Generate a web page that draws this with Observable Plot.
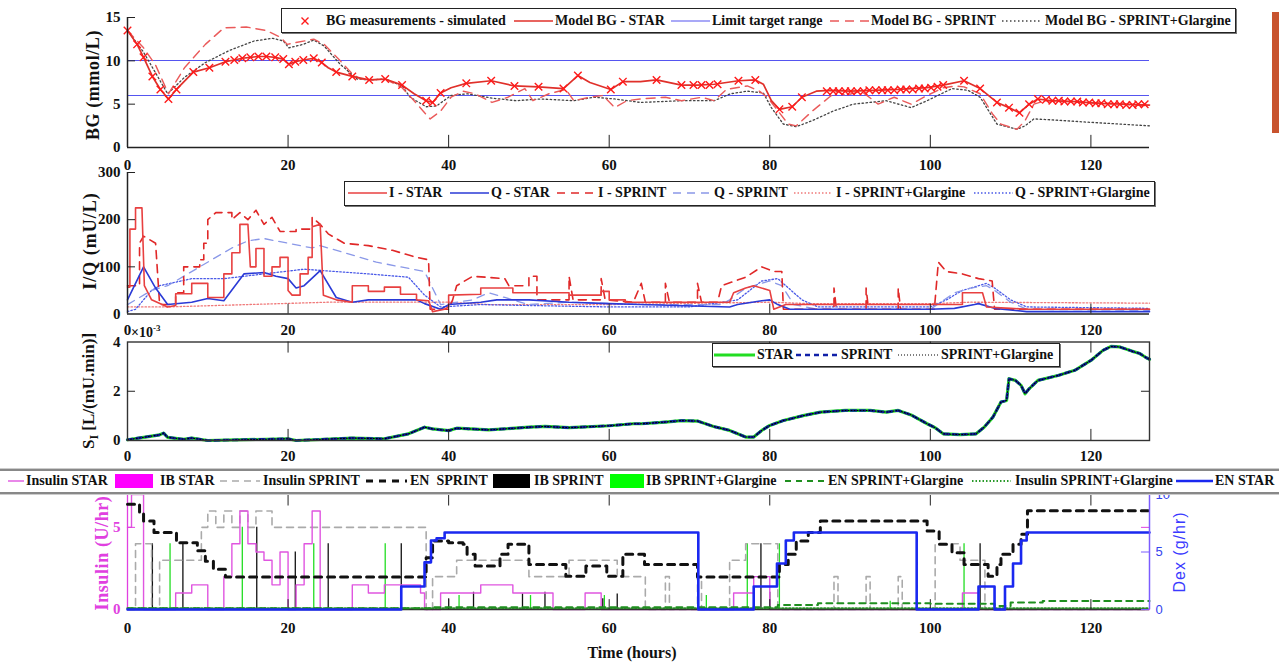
<!DOCTYPE html>
<html><head><meta charset="utf-8">
<script src="https://cdn.jsdelivr.net/npm/d3@7"></script>
<script src="https://cdn.jsdelivr.net/npm/@observablehq/plot@0.6"></script>
<style>
body{margin:0;background:#fff;}
#chart{position:relative;width:1279px;height:663px;overflow:hidden;background:#fff;font-family:"Liberation Serif","Times New Roman",serif;font-weight:bold;color:#111;}
.lg{position:absolute;box-sizing:border-box;border:1px solid #222;background:#fff;box-shadow:1px 1px 0 #777;}
.strip{position:absolute;box-sizing:border-box;background:#fff;border-top:2px solid #888;border-bottom:2px solid #888;box-shadow:0 1px 0 #ccc, 0 -1px 0 #ccc;}
.it{position:absolute;font-size:14px;line-height:18px;height:18px;white-space:nowrap;}
.yt{position:absolute;white-space:nowrap;transform:translate(-50%,-50%) rotate(-90deg);line-height:1;}
</style></head><body><div id="chart"></div><script>
// ---------- DATA ----------
const xTicks = [0, 20, 40, 60, 80, 100, 120];
// Panel 1: BG (mmol/L)
const bgMeas = [[0,13.5],[1.2,11.9],[2,10.4],[3.1,8.2],[4.1,6.7],[5.1,5.6],[6.1,6.7],[8.2,8.7],[10.2,9.2],[12.2,9.9],[13.3,10.1],[14.3,10.3],[15.3,10.4],[16.3,10.5],[17.3,10.5],[18.4,10.4],[19.4,10.2],[20.1,9.6],[20.9,9.9],[21.9,10.1],[23.2,10.3],[24.2,9.8],[26,8.7],[28,8.2],[30.1,7.8],[32.1,7.9],[34.2,7.2],[37.2,5.4],[38,5.2],[39,6.3],[42.2,7.4],[45.3,7.7],[48.2,7.1],[51.2,7.0],[54.3,6.8],[56.1,8.3],[60.2,6.7],[61.7,7.6],[65.9,7.8],[69,7.2],[70.5,7.2],[71.5,7.2],[72.5,7.2],[73.5,7.3],[76.1,7.7],[78.2,7.8],[81.2,4.4],[82.8,4.7],[84,5.8],[87.1,6.5],[87.9,6.5],[88.6,6.5],[89.4,6.5],[90.1,6.5],[90.9,6.5],[91.7,6.5],[92.4,6.6],[93.2,6.6],[94.0,6.6],[94.7,6.6],[95.5,6.6],[96.3,6.7],[97.0,6.7],[97.8,6.7],[98.6,6.8],[99.3,6.8],[100.1,6.9],[100.9,7.0],[101.6,7.2],[104.2,7.7],[106.2,6.8],[108.3,5.2],[109.8,4.6],[111.1,4.0],[112.3,5.0],[113.4,5.6],[114.4,5.5],[115.2,5.4],[116.0,5.4],[116.7,5.3],[117.5,5.3],[118.3,5.3],[119.0,5.2],[119.8,5.2],[120.6,5.1],[121.3,5.1],[122.1,5.0],[122.9,5.0],[123.6,5.0],[124.4,4.9],[125.2,4.9],[125.9,5.0],[126.7,5.0]];
const bgStar = [[0,13.5],[1.2,11.9],[2,10.4],[3.1,8.2],[4.1,6.7],[5.1,5.6],[6.1,6.7],[8.2,8.7],[10.2,9.2],[12.2,9.9],[13.3,10.1],[14.3,10.3],[15.3,10.4],[16.3,10.5],[17.3,10.5],[18.4,10.4],[19.4,10.2],[20.1,9.6],[20.9,9.9],[21.9,10.1],[23.2,10.3],[24.2,9.8],[25,9.2],[26,8.7],[28,8.2],[30.1,7.8],[32.1,7.9],[34.2,7.2],[35.7,6.2],[37.2,5.4],[38,5.2],[39,6.3],[40.3,6.9],[42.2,7.4],[45.3,7.7],[48.2,7.1],[51.2,7.0],[54.3,6.8],[56.1,8.3],[57.6,7.5],[60.2,6.7],[61.7,7.6],[63.9,7.6],[65.9,7.8],[69,7.2],[71,7.2],[73.1,7.3],[76.1,7.7],[78.2,7.8],[79.2,7.3],[80.2,5.4],[81.2,4.4],[82.8,4.7],[84,5.8],[85.8,6.5],[87.4,6.6],[90,6.5],[93,6.6],[96,6.7],[99.6,6.9],[101.6,7.2],[104.2,7.7],[106.2,6.8],[108.3,5.2],[109.8,4.6],[111.1,4.0],[112.3,5.0],[113.4,5.6],[114.9,5.4],[118,5.3],[121,5.1],[124,5.0],[127.3,4.9]];
const bgSprint = [[0,13.5],[2,11.5],[3.5,9.5],[5.1,6.2],[7.1,9.2],[9.7,11.9],[12,13.8],[14.8,13.9],[17.3,13.5],[19.1,12.7],[19.9,11.9],[20.9,12.1],[23.2,12.5],[24.5,11.9],[26.5,10],[28,8.5],[29,7.9],[30.1,7.8],[32.1,7.9],[34.2,6.9],[35.7,5.4],[37.2,3.8],[37.7,3.3],[39,4.2],[40.3,5.8],[41.8,6.5],[43.3,6.2],[45.4,5.2],[47.4,5.8],[49.5,6.8],[50.5,5.4],[52.5,6.2],[54.6,6.7],[55.6,5.4],[57.6,5.8],[59.2,6.0],[60.7,4.6],[62.2,5.4],[63.9,5.6],[67,5.8],[69,5.4],[71.5,5.8],[73.1,5.4],[74.6,6.7],[77.2,7.1],[78.7,6.5],[79.7,5.8],[80.7,4.6],[82.3,2.7],[83.3,2.5],[85.3,4.2],[87.4,5.8],[88.4,6.5],[89.4,6.0],[91.4,6.5],[93.5,5.0],[95.5,5.8],[97.6,5.0],[99.6,6.0],[101.6,6.9],[103.2,7.1],[104.2,7.0],[106.2,6.2],[107.8,3.8],[108.8,2.7],[110.8,2.1],[111.8,3.1],[112.9,5.0],[114.4,5.4],[120,5.2],[127.3,4.8]];
const bgGlargine = [[0,13.5],[2,11.0],[5,6.2],[7.1,8.1],[9.7,9.8],[12.7,11.2],[15.8,12.3],[18.1,12.6],[19.4,12.3],[20.1,11.5],[21.9,11.9],[23.2,12.4],[24.5,11.7],[26.5,9.6],[28.6,7.9],[30.1,7.8],[32.1,7.9],[34.2,7.1],[35.2,5.8],[37.2,4.7],[38.5,4.8],[40.3,6.0],[42.3,6.2],[45.4,5.7],[48.4,5.4],[51.5,5.6],[55.6,5.4],[58.1,5.8],[60.7,5.6],[63.9,5.2],[69,5.4],[73.1,5.4],[75.1,6.2],[77.2,6.5],[79.2,6.3],[80.2,4.6],[81.7,2.7],[83.3,2.4],[85.3,3.1],[87.9,4.2],[90.4,5.0],[94.5,5.4],[97.6,4.6],[99.6,5.4],[102.7,6.8],[104.7,6.6],[106.2,5.8],[108.3,2.7],[110.8,2.1],[111.8,2.5],[112.9,3.3],[114.9,3.2],[120,2.9],[127.3,2.5]];
const bgLimits = [6, 10];
// Panel 2: I/Q (mU/L)
const iStar = [[0,57],[0.3,57],[0.3,180],[1,180],[1,225],[1.8,225],[2.1,60],[3,30],[5,15],[6,18],[6,43],[8,43],[8,65],[10,65],[10,35],[12,35],[12,85],[13,85],[13,130],[14,130],[14,190],[15,190],[15.3,100],[16,100],[16,139],[17,139],[17,80],[18,80],[18,100],[19,100],[19,120],[20,120],[20,50],[20.5,40],[21.5,40],[21.5,85],[22.5,85],[22.5,120],[23,120],[23,185],[24,190],[24.4,40],[26,30],[28,25],[28,60],[30,60],[30,48],[32,48],[32,57],[34,57],[34,42],[36,42],[36,30],[37.5,28],[38,5],[39.5,10],[40,15],[40,40],[44,42],[44,55],[48,55],[48,45],[55,45],[55,40],[59,40],[59,48],[60,48],[60,30],[62,30],[62,25],[75,25],[75.5,45],[77,55],[78,60],[80,50],[80.5,10],[82,20],[104,20],[104,45],[106.5,45],[107,15],[110,12],[112,10],[127.3,10]];
const qStar = [[0,30],[2,100],[3.5,55],[5,20],[8,25],[10,33],[12,28],[14.5,85],[17,88],[18.5,80],[20,75],[21,55],[22,60],[24,92],[26,35],[28,25],[30,30],[36,30],[37,22],[39,10],[40,20],[44,25],[46,30],[50,30],[55,25],[60,22],[64,20],[75,15],[76,20],[79,28],[80,30],[81,20],[82.5,10],[100,10],[103,12],[105.5,20],[106,22],[108,12],[112,5],[127.3,5]];
const iSprint = [[0,60],[1.5,60],[1.5,150],[2,165],[3.5,150],[4,20],[6,20],[6,45],[7,45],[7,100],[9,100],[9,115],[9.5,115],[9.5,150],[10,150],[10,200],[11,215],[13,215],[13,200],[14,215],[15,200],[16,220],[17,190],[18,205],[19,175],[21,175],[21,180],[23,180],[23,205],[24,190],[25,170],[27,150],[30,145],[33,135],[36,120],[37.5,115],[37.7,10],[40,10],[40.5,30],[41,60],[43,80],[47,75],[47.5,60],[50,60],[50,80],[51,80],[51,30],[55,30],[55,80],[55.5,30],[59,30],[59,75],[59.5,30],[63,25],[64,65],[64.5,25],[67,25],[67,65],[67.5,25],[71,25],[71,65],[71.5,25],[73.5,25],[74,60],[77,78],[79,100],[80.5,90],[81.5,90],[81.7,10],[88,10],[88,55],[88.3,10],[92,10],[92,55],[92.3,10],[96,10],[96,55],[96.3,10],[100.5,10],[101,110],[102,90],[104,85],[106,75],[107.7,70],[108,10],[127.3,10]];
const qSprint = [[0,20],[3,50],[5,60],[9,100],[13,140],[15,155],[17,160],[20,150],[23,140],[24,145],[27,130],[31,110],[34,100],[37,90],[39,20],[43,30],[45,45],[47,35],[50,20],[55,25],[64,20],[74,20],[75,30],[77,55],[79,65],[80,70],[81.5,60],[83,20],[86,10],[100,10],[103,45],[105,55],[107,60],[108,50],[110,25],[112,10],[127.3,8]];
const iGlargine = [[0,15],[5,15],[15,20],[25,25],[40,25],[45,20],[60,20],[80,25],[85,22],[100,22],[105,25],[127.3,23]];
const qGlargine = [[0,5],[1,10],[3,50],[4,60],[8,75],[12,75],[22,95],[26,90],[30,85],[35,78],[37,40],[39,15],[44,20],[50,18],[60,15],[70,15],[76,30],[79,70],[81,75],[82,60],[84,30],[86,15],[100,15],[102,30],[104,50],[107,65],[108,55],[110,30],[112,15],[127.3,12]];
// Panel 3: SI (x10^-3 L/(mU.min)) -- identical for STAR, SPRINT, SPRINT+Glargine
const siValues = [[0,0.03],[2,0.13],[4,0.23],[4.5,0.3],[5,0.13],[7,0.05],[8,0.1],[10,0.0],[20,0.07],[21,0.0],[28,0.1],[32,0.07],[35,0.27],[37,0.54],[38,0.47],[40,0.4],[41,0.5],[45,0.43],[50,0.54],[52,0.57],[55,0.52],[60,0.6],[63,0.68],[64,0.68],[67,0.75],[69,0.81],[71,0.79],[73,0.57],[75,0.41],[77,0.14],[78,0.14],[79,0.41],[80,0.61],[81.7,0.81],[84.3,1.02],[86.3,1.15],[89.4,1.22],[92.5,1.22],[94.5,1.15],[96,1.22],[97.6,1.04],[99.6,0.68],[100.6,0.52],[101.6,0.27],[103.7,0.24],[105.7,0.27],[106.7,0.54],[107.8,0.95],[108.8,1.56],[109.5,1.63],[109.8,2.51],[110.6,2.44],[111.3,2.24],[111.8,1.9],[112.3,2.1],[113.4,2.44],[115.9,2.64],[118,2.85],[120,3.25],[121.5,3.66],[122.5,3.82],[123.6,3.8],[125.1,3.63],[126.1,3.53],[126.9,3.36],[127.3,3.3]];
// Panel 4: insulin (U/hr, left axis) and nutrition (g/hr, right axis), step series [time, value]
const insulinStar = [[0,5],[0.5,7],[2,0],[6,1],[8,1.5],[10,0],[12,2],[13,4],[14,6],[15,4],[16,3.5],[17,3],[18,1.5],[19,3.5],[20,0],[21,1.5],[22,4],[23,6],[24,0],[28,1.5],[30,1],[32,1.5],[34,1.5],[36.5,1],[37,0],[39,1],[44,1.5],[48,1],[53,0],[57,1],[59,0],[75.5,1],[78,2],[80,0],[104,1],[106,0],[127.3,0]];
const insulinSprint = [[0,0],[1,4],[3,0],[4,3],[9.2,5],[10,6],[11,5],[12,6],[13,5],[14,6],[15,5],[16,6],[18,5],[37.2,0],[38,2],[41,3],[48,3],[50,2],[55,3],[61,2],[64,2],[64.5,0],[67,2],[67.5,0],[71,2],[71.5,0],[75,3],[77,4],[81,0],[88,2],[88.5,0],[92,2],[92.5,0],[96,2],[96.5,0],[100.6,4],[103.7,3],[106.8,0],[127.3,0]];
const insulinGlargine = [[0,0.08],[127.3,0.08]];
const enSprint = [[0,9.16],[1.5,8.4],[2,7.7],[3.3,6.7],[6.1,5.8],[8.7,5.1],[9.7,4.2],[10.7,3.5],[12.2,2.82],[37.2,4.5],[38,5.96],[40,5.8],[41.8,5.67],[42.3,4.8],[43.3,3.78],[46.4,4.8],[47.4,5.67],[50,3.92],[54.6,2.9],[57.1,3.78],[59.7,2.9],[61.7,4.8],[64.4,3.92],[71,2.82],[81.2,3.92],[82.3,4.8],[83.3,5.96],[84.8,6.69],[86.3,7.7],[99.6,6.83],[101.1,5.67],[102.7,4.94],[104.2,3.92],[107.2,2.9],[108.3,3.92],[108.8,4.8],[110.3,5.67],[111.3,6.54],[112.1,8.58],[127.3,8.58]];
const enStar = [[0,0],[34.1,2.0],[37,4.1],[37.8,6.0],[38.5,6.2],[39.5,6.7],[71.1,0],[78,2],[80.9,4],[82,6],[83,6.7],[98.3,0],[106,2],[108,0],[109.3,2],[110.3,4],[111.3,6],[112,6.7],[127.3,6.7]];
const enGlargine = [[0,0.1],[38,0.2],[81,0.4],[86,0.55],[100,0.5],[108,0.3],[110,0.6],[114,0.75],[127.3,0.75]];
const ibSprint = [[3.1,4],[6.9,4],[16.1,5],[20.9,3.5],[25,4],[34.1,4],[40,0.65],[43.1,1.05],[49.2,0.95],[52,1.05],[59.2,0.65],[61,0.95],[78.9,4],[80,1.05],[106.2,4]];
const ibGlargine = [[5.3,4],[14.3,5],[23.2,4],[32.1,4],[41.3,0.85],[50.2,0.85],[59.4,0.85],[72.1,0.85],[77.2,4],[81.2,4],[95,0.5],[104.2,4]];

// ---------- LAYOUT ----------
const chart = document.getElementById("chart");
const FONT = "'Liberation Serif','Times New Roman',serif";
const XD = [0, 127.3];
const inner = xTicks.slice(1);
const fmt = d => String(d);
const style = {fontFamily: FONT, fontSize: "15px", fontWeight: "bold", color: "#111", background: "transparent", overflow: "visible"};
const base = (h, mt, mb) => ({width: 1279, height: h, marginLeft: 127, marginRight: 130, marginTop: mt, marginBottom: mb, x: {domain: XD, label: null}, style});
function place(svg, top) { svg.style.position = "absolute"; svg.style.left = "0px"; svg.style.top = top + "px"; chart.appendChild(svg); }
const ax = (pad) => Plot.axisX({ticks: xTicks, tickFormat: fmt, anchor: "bottom", tickSize: 0, tickPadding: pad, label: null, fontSize: 15});
const ay = (t, extra = {}) => Plot.axisY({ticks: t, tickFormat: fmt, anchor: "left", tickSize: 0, tickPadding: 7, label: null, fontSize: 15, ...extra});

// Panel 1
place(Plot.plot({...base(180, 17, 33), y: {domain: [0, 15], label: null}, marks: [
  Plot.ruleY(bgLimits, {stroke: "#5555f0", strokeWidth: 1, shapeRendering: "crispEdges"}),
  Plot.line(bgGlargine, {stroke: "#444", strokeWidth: 1.3, strokeDasharray: "1.5,2.5"}),
  Plot.line(bgSprint, {stroke: "#ea5a5a", strokeWidth: 1.4, strokeDasharray: "9,6"}),
  Plot.line(bgStar, {stroke: "#e0302a", strokeWidth: 1.7}),
  Plot.dot(bgMeas, {symbol: "times", r: 3.5, stroke: "#ff1a1a", strokeWidth: 1.4}),
  Plot.ruleY([0], {stroke: "#222", strokeWidth: 1.5}),
  Plot.ruleX([0], {stroke: "#222", strokeWidth: 1.5}),
  Plot.ruleX(inner, {y1: 0, y2: 1.4, stroke: "#222"}),
  Plot.ruleY([5, 10, 15], {x1: 0, x2: 1, stroke: "#222"}),
  ax(12), ay([0, 5, 10, 15])
]}), 0);

// Panel 2
place(Plot.plot({...base(180, 12, 26.5), y: {domain: [0, 300], label: null}, marks: [
  Plot.line(iGlargine, {stroke: "#f07a7a", strokeWidth: 1.3, strokeDasharray: "1.5,2"}),
  Plot.line(qGlargine, {stroke: "#4a5ae8", strokeWidth: 1.3, strokeDasharray: "1.5,2"}),
  Plot.line(qSprint, {stroke: "#8a98e8", strokeWidth: 1.3, strokeDasharray: "8,6"}),
  Plot.line(iSprint, {stroke: "#e02828", strokeWidth: 1.6, strokeDasharray: "8,6"}),
  Plot.line(qStar, {stroke: "#2a3ad6", strokeWidth: 1.6}),
  Plot.line(iStar, {stroke: "#e84040", strokeWidth: 1.6}),
  Plot.ruleY([0], {stroke: "#222", strokeWidth: 1.5}),
  Plot.ruleX([0], {stroke: "#222", strokeWidth: 1.5}),
  Plot.ruleX(inner, {y1: 0, y2: 21, stroke: "#222"}),
  Plot.ruleY([100, 200, 300], {x1: 0, x2: 1, stroke: "#222"}),
  ax(10), ay([0, 100, 200, 300])
]}), 160);

// Panel 3
place(Plot.plot({...base(140, 11.5, 30), y: {domain: [0, 4], label: null}, marks: [
  Plot.line(siValues, {stroke: "#22dd22", strokeWidth: 3.2}),
  Plot.line(siValues, {stroke: "#1020a8", strokeWidth: 2.6, strokeDasharray: "5,4"}),
  Plot.line(siValues, {stroke: "#000", strokeWidth: 1.1, strokeDasharray: "1,2"}),
  Plot.frame({stroke: "#333", strokeWidth: 1.4}),
  Plot.ruleX(inner, {y1: 0, y2: 0.45, stroke: "#222"}),
  Plot.ruleX(inner, {y1: 3.55, y2: 4, stroke: "#222"}),
  Plot.ruleY([2], {x1: 0, x2: 1, stroke: "#222"}),
  Plot.ruleY([2], {x1: 126.3, x2: 127.3, stroke: "#222"}),
  ax(9.5), ay([0, 2, 4])
]}), 330);

// Panel 4 (left axis: insulin)
place(Plot.plot({...base(203, 34, 54), y: {domain: [0, 7], label: null}, marks: [
  Plot.ruleX(ibGlargine, {x: d => d[0], y1: 0, y2: d => d[1], stroke: "#22dd22", strokeWidth: 1.3}),
  Plot.ruleX(ibSprint, {x: d => d[0], y1: 0, y2: d => d[1], stroke: "#111", strokeWidth: 1.3}),
  Plot.line(insulinSprint, {curve: "step-after", stroke: "#aaa", strokeWidth: 1.6, strokeDasharray: "7,5"}),
  Plot.line(insulinStar, {curve: "step-after", stroke: "#e055e0", strokeWidth: 1.4}),
  Plot.line(insulinGlargine, {stroke: "#2a9a2a", strokeWidth: 2, strokeDasharray: "1.5,2"}),
  Plot.ruleY([0], {stroke: "#333", strokeWidth: 1.3}),
  Plot.ruleX([0], {stroke: "#e040e0", strokeWidth: 1.3}),
  Plot.ruleX(inner, {y1: 0, y2: 0.6, stroke: "#222"}),
  Plot.ruleX(inner, {y1: 6.3, y2: 7, stroke: "#222"}),
  Plot.ruleY([5], {x1: 0, x2: 1, stroke: "#e040e0"}),
  Plot.ruleY([5], {x1: 126.3, x2: 127.3, stroke: "#e040e0"}),
  ax(13), ay([0, 5], {color: "#e040e0"})
]}), 460);

// Panel 4 (right axis: Dex)
place(Plot.plot({...base(203, 34, 54), x: {domain: XD, axis: null}, y: {domain: [0, 10], label: null}, marks: [
  Plot.line(enGlargine, {curve: "step-after", stroke: "#1f8f1f", strokeWidth: 2, strokeDasharray: "6,5"}),
  Plot.line(enSprint, {curve: "step-after", stroke: "#111", strokeWidth: 3, strokeDasharray: "7,6"}),
  Plot.line(enStar, {curve: "step-after", stroke: "#1a28f0", strokeWidth: 2.6}),
  Plot.ruleX([127.3], {stroke: "#7b5cff", strokeWidth: 1.5}),
  Plot.ruleY([0, 5, 10], {x1: 126.3, x2: 127.3, stroke: "#7b5cff"}),
  Plot.axisY({ticks: [0, 5, 10], tickFormat: fmt, anchor: "right", tickSize: 0, tickPadding: 6, label: null, color: "#3344ee", fontFamily: "'Liberation Sans',Arial,sans-serif", fontWeight: "normal", fontSize: 13})
]}), 460);

// ---------- LEGENDS & TITLES ----------
const NS = "http://www.w3.org/2000/svg";
function box(l, t, r, b, cls = "lg") { const d = document.createElement("div"); d.className = cls; Object.assign(d.style, {left: l + "px", top: t + "px", width: (r - l) + "px", height: (b - t) + "px"}); chart.appendChild(d); }
function sw(x0, x1, cy, kind, color, width = 1.5, dash = null) {
  const w = x1 - x0, h = 18;
  const s = document.createElementNS(NS, "svg");
  s.setAttribute("width", w); s.setAttribute("height", h);
  s.style.cssText = `position:absolute;left:${x0}px;top:${cy - h / 2}px;overflow:visible`;
  let el;
  if (kind === "line") {
    el = document.createElementNS(NS, "line");
    el.setAttribute("x1", 0); el.setAttribute("x2", w); el.setAttribute("y1", h / 2); el.setAttribute("y2", h / 2);
    el.setAttribute("stroke", color); el.setAttribute("stroke-width", width);
    if (dash) el.setAttribute("stroke-dasharray", dash);
  } else if (kind === "block") {
    el = document.createElementNS(NS, "rect");
    el.setAttribute("x", 0); el.setAttribute("y", 2); el.setAttribute("width", w); el.setAttribute("height", h - 4); el.setAttribute("fill", color);
  } else {
    el = document.createElementNS(NS, "path");
    el.setAttribute("d", `M${w / 2 - 3.5},${h / 2 - 3.5}l7,7m0,-7l-7,7`);
    el.setAttribute("stroke", color); el.setAttribute("stroke-width", width); el.setAttribute("fill", "none");
  }
  s.appendChild(el); chart.appendChild(s);
}
function tx(x, cy, text) { const d = document.createElement("div"); d.className = "it"; d.textContent = text; d.style.left = x + "px"; d.style.top = (cy - 9) + "px"; chart.appendChild(d); }
function title(x, y, html, size, extra = {}) { const d = document.createElement("div"); d.className = "yt"; d.innerHTML = html; Object.assign(d.style, {left: x + "px", top: y + "px", fontSize: size + "px"}, extra); chart.appendChild(d); }

// legend 1
box(281, 8, 1236, 33);
sw(296, 314, 21, "times", "#ff1a1a", 1.4); tx(326, 21, "BG measurements - simulated");
sw(514, 553, 21, "line", "#e0302a", 1.7); tx(555, 21, "Model BG - STAR");
sw(671, 710, 21, "line", "#5555f0", 1.2); tx(712, 21, "Limit target range");
sw(830, 869, 21, "line", "#ea5a5a", 1.4, "9,6"); tx(871, 21, "Model BG - SPRINT");
sw(1002, 1041, 21, "line", "#444", 1.3, "1.5,2.5"); tx(1045, 21, "Model BG - SPRINT+Glargine");
// legend 2
box(344, 181, 1155, 206);
sw(348, 387, 193, "line", "#e84040", 1.6); tx(389, 193, "I - STAR");
sw(450, 489, 193, "line", "#2a3ad6", 1.6); tx(491, 193, "Q - STAR");
sw(557, 596, 193, "line", "#e02828", 1.6, "8,6"); tx(598, 193, "I - SPRINT");
sw(673, 712, 193, "line", "#8a98e8", 1.3, "8,6"); tx(714, 193, "Q - SPRINT");
sw(794, 832, 193, "line", "#f07a7a", 1.3, "1.5,2"); tx(836, 193, "I - SPRINT+Glargine");
sw(974, 1013, 193, "line", "#4a5ae8", 1.3, "1.5,2"); tx(1015, 193, "Q - SPRINT+Glargine");
// legend 3
box(712, 343, 1060, 367);
sw(714, 755, 355, "line", "#22dd22", 3); tx(757, 355, "STAR");
sw(796, 839, 355, "line", "#1020a8", 2.6, "5,4"); tx(841, 355, "SPRINT");
sw(898, 939, 355, "line", "#000", 1.1, "1,2"); tx(941, 355, "SPRINT+Glargine");
// legend 4 (strip)
box(-2, 469, 1281, 494, "strip");
sw(8, 24, 481, "line", "#e055e0", 1.4); tx(26, 481, "Insulin STAR");
sw(115, 153, 481, "block", "#ff00ff"); tx(160, 481, "IB STAR");
sw(220, 260, 481, "line", "#aaa", 1.6, "7,5"); tx(263, 481, "Insulin SPRINT");
sw(366, 407, 481, "line", "#111", 3, "7,6"); tx(410, 481, "EN\u00a0 SPRINT");
sw(493, 530, 481, "block", "#000"); tx(534, 481, "IB SPRINT");
sw(610, 644, 481, "block", "#00ff00"); tx(646, 481, "IB SPRINT+Glargine");
sw(785, 826, 481, "line", "#1f8f1f", 2, "6,5"); tx(828, 481, "EN SPRINT+Glargine");
sw(972, 1011, 481, "line", "#2a9a2a", 2, "1.5,2"); tx(1015, 481, "Insulin SPRINT+Glargine");
sw(1176, 1213, 481, "line", "#1a28f0", 2.6); tx(1215, 481, "EN STAR");

// axis titles
title(93, 85, "BG (mmol/L)", 18, {letterSpacing: "0.6px"});
title(90, 241, "I/Q (mU/L)", 18, {letterSpacing: "1px"});
title(90, 391, "S<sub style='font-size:12px'>I</sub> [L/(mU.min)]", 17, {});
title(102, 553, "Insulin (U/hr)", 18, {color: "#e040e0", letterSpacing: "0.6px"});
title(1180, 552, "Dex (g/hr)", 16, {color: "#3a3aff", fontFamily: "'Liberation Sans',Arial,sans-serif", fontWeight: "normal", letterSpacing: "1px"});
const tt = document.createElement("div");
tt.textContent = "Time (hours)";
Object.assign(tt.style, {position: "absolute", left: "632px", top: "653px", transform: "translate(-50%,-50%)", fontSize: "16px", whiteSpace: "nowrap"});
chart.appendChild(tt);
const ex = document.createElement("div");
ex.innerHTML = "&times;10<sup style='font-size:9px'>-3</sup>";
Object.assign(ex.style, {position: "absolute", left: "131px", top: "321px", fontSize: "14px", lineHeight: "14px", whiteSpace: "nowrap"});
chart.appendChild(ex);
// decorative side bar from the source screenshot
const bar = document.createElement("div");
Object.assign(bar.style, {position: "absolute", left: "1272px", top: "12px", width: "7px", height: "121px", background: "#c8532e"});
chart.appendChild(bar);
</script></body></html>
